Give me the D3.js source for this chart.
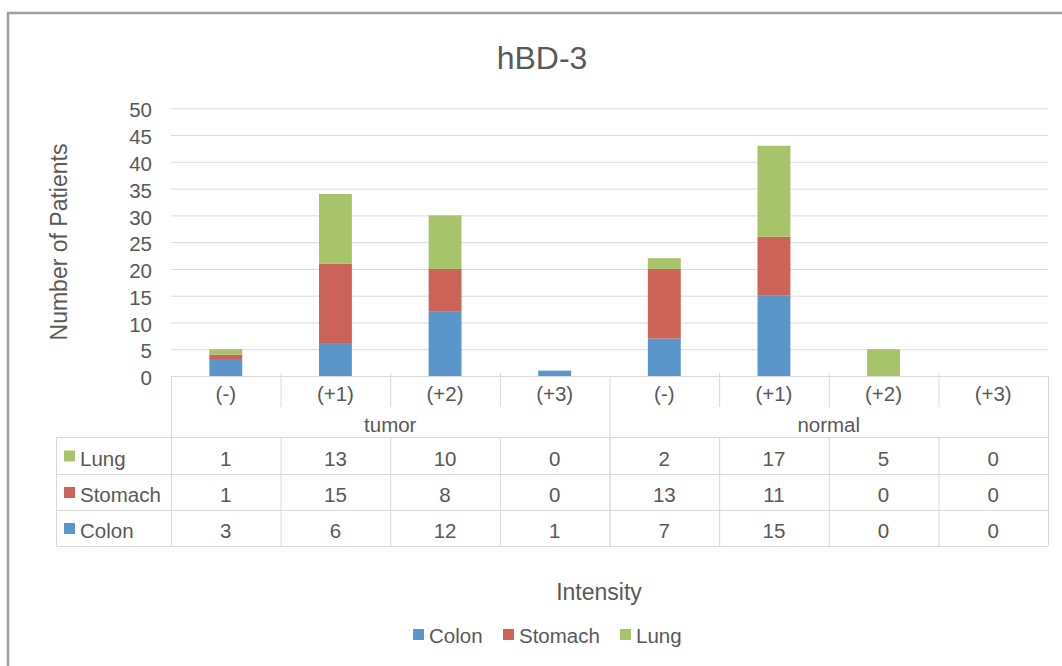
<!DOCTYPE html>
<html>
<head>
<meta charset="utf-8">
<script src="https://cdn.jsdelivr.net/npm/d3@7"></script>
<style>
  html, body { margin: 0; padding: 0; background: #fff; }
  svg { display: block; }
  text { font-family: "Liberation Sans", Arial, sans-serif; fill: #595959; }
</style>
</head>
<body>
<svg id="chart" width="1062" height="666"></svg>
<script>
const title = "hBD-3";
const yTitle = "Number of Patients";
const xTitle = "Intensity";
const categories = ["(-)", "(+1)", "(+2)", "(+3)", "(-)", "(+1)", "(+2)", "(+3)"];
const groups = ["tumor", "normal"];
const seriesNames = ["Colon", "Stomach", "Lung"];
const colon   = [3, 6, 12, 1, 7, 15, 0, 0];
const stomach = [1, 15, 8, 0, 13, 11, 0, 0];
const lung    = [1, 13, 10, 0, 2, 17, 5, 0];
const yTicks = [0, 5, 10, 15, 20, 25, 30, 35, 40, 45, 50];
const colors = ["#5b96cb", "#cc6359", "#a8c46a"];

(function () {
const svg = d3.select("#chart");
const gridColor = "#d9d9d9";
const fs = 20.5;

svg.append("rect").attr("x", 8).attr("y", 13).attr("width", 1200).attr("height", 800)
  .attr("fill", "none").attr("stroke", "#a0a0a0").attr("stroke-width", 2.5);

const pLeft = 171, pRight = 1048, pTop = 108.3, pBottom = 376;
const idx = categories.map((d, i) => i);
const xCol = d3.scaleBand().domain(idx).range([pLeft, pRight]).padding(0);
const xBar = d3.scaleBand().domain(idx).range([pLeft, pRight]).paddingInner(0.7).paddingOuter(0.35);
const y = d3.scaleLinear().domain([0, 50]).range([pBottom, pTop]);

svg.append("g").selectAll("line").data(yTicks).join("line")
  .attr("x1", pLeft).attr("x2", pRight)
  .attr("y1", d => y(d) + 0.5).attr("y2", d => y(d) + 0.5)
  .attr("stroke", gridColor).attr("stroke-width", 1);

const yAxis = svg.append("g").attr("transform", `translate(${pLeft},0)`)
  .call(d3.axisLeft(y).tickValues(yTicks).tickSize(0).tickPadding(19));
yAxis.select(".domain").remove();
yAxis.selectAll("text").attr("font-size", fs).attr("fill", "#595959")
  .attr("font-family", "Liberation Sans, Arial, sans-serif").attr("dy", "0.42em");

const table = idx.map(i => ({ i, Colon: colon[i], Stomach: stomach[i], Lung: lung[i] }));
const stack = d3.stack().keys(seriesNames)(table);
svg.append("g").selectAll("g").data(stack).join("g")
  .attr("fill", (d, k) => colors[k])
  .selectAll("rect").data(d => d).join("rect")
  .attr("x", d => xBar(d.data.i))
  .attr("width", xBar.bandwidth())
  .attr("y", d => y(d[1]))
  .attr("height", d => y(d[0]) - y(d[1]));

const rowTops = [437, 474, 510, 546];
const tableLeft = 56.5;
const tg = svg.append("g");
tg.append("line").attr("x1", pLeft).attr("x2", pRight).attr("y1", pBottom + 0.5).attr("y2", pBottom + 0.5)
  .attr("stroke", gridColor);
rowTops.forEach(r => tg.append("line").attr("x1", tableLeft).attr("x2", pRight)
  .attr("y1", r + 0.5).attr("y2", r + 0.5).attr("stroke", gridColor));
[pLeft, pRight].forEach(x => tg.append("line").attr("x1", x + 0.5).attr("x2", x + 0.5)
  .attr("y1", pBottom).attr("y2", rowTops[3]).attr("stroke", gridColor));
tg.append("line").attr("x1", xCol(4) + 0.5).attr("x2", xCol(4) + 0.5)
  .attr("y1", pBottom).attr("y2", rowTops[3]).attr("stroke", gridColor);
tg.append("line").attr("x1", tableLeft).attr("x2", tableLeft)
  .attr("y1", rowTops[0]).attr("y2", rowTops[3]).attr("stroke", gridColor);
idx.slice(1).forEach(i => {
  if (i !== 4) tg.append("line").attr("x1", xCol(i) + 0.5).attr("x2", xCol(i) + 0.5)
    .attr("y1", pBottom - 3).attr("y2", 407).attr("stroke", gridColor);
  tg.append("line").attr("x1", xCol(i) + 0.5).attr("x2", xCol(i) + 0.5)
    .attr("y1", rowTops[0]).attr("y2", rowTops[3]).attr("stroke", gridColor);
});
tg.selectAll("text.cat").data(categories).join("text").attr("class", "cat")
  .attr("x", (d, i) => xCol(i) + xCol.bandwidth() / 2).attr("y", 401)
  .attr("text-anchor", "middle").attr("font-size", fs).text(d => d);
groups.forEach((g, k) => {
  tg.append("text").attr("x", xCol(k * 4) + xCol.bandwidth() * 2).attr("y", 432)
    .attr("text-anchor", "middle").attr("font-size", fs).text(g);
});
const rows = [
  { name: "Lung", vals: lung, color: colors[2] },
  { name: "Stomach", vals: stomach, color: colors[1] },
  { name: "Colon", vals: colon, color: colors[0] }
];
rows.forEach((r, k) => {
  const cy = (rowTops[k] + rowTops[k + 1]) / 2 + 3;
  tg.append("rect").attr("x", 64).attr("y", cy - 8).attr("width", 11).attr("height", 11).attr("fill", r.color);
  tg.append("text").attr("x", 80).attr("y", cy + 7).attr("font-size", fs).text(r.name);
  r.vals.forEach((v, i) => {
    tg.append("text").attr("x", xCol(i) + xCol.bandwidth() / 2).attr("y", cy + 7)
      .attr("text-anchor", "middle").attr("font-size", fs).text(v);
  });
});

svg.append("text").attr("x", 542).attr("y", 69).attr("text-anchor", "middle")
  .attr("font-size", 32).text(title);
svg.append("text").attr("transform", "translate(67,242) rotate(-90)").attr("text-anchor", "middle")
  .attr("font-size", 23).text(yTitle);
svg.append("text").attr("x", 599).attr("y", 600).attr("text-anchor", "middle")
  .attr("font-size", 23).text(xTitle);

const legendX = [413, 503, 620];
seriesNames.forEach((s, k) => {
  svg.append("rect").attr("x", legendX[k]).attr("y", 629).attr("width", 11).attr("height", 11).attr("fill", colors[k]);
  svg.append("text").attr("x", legendX[k] + 16).attr("y", 643).attr("font-size", fs).text(s);
});
})();
</script>
</body>
</html>
